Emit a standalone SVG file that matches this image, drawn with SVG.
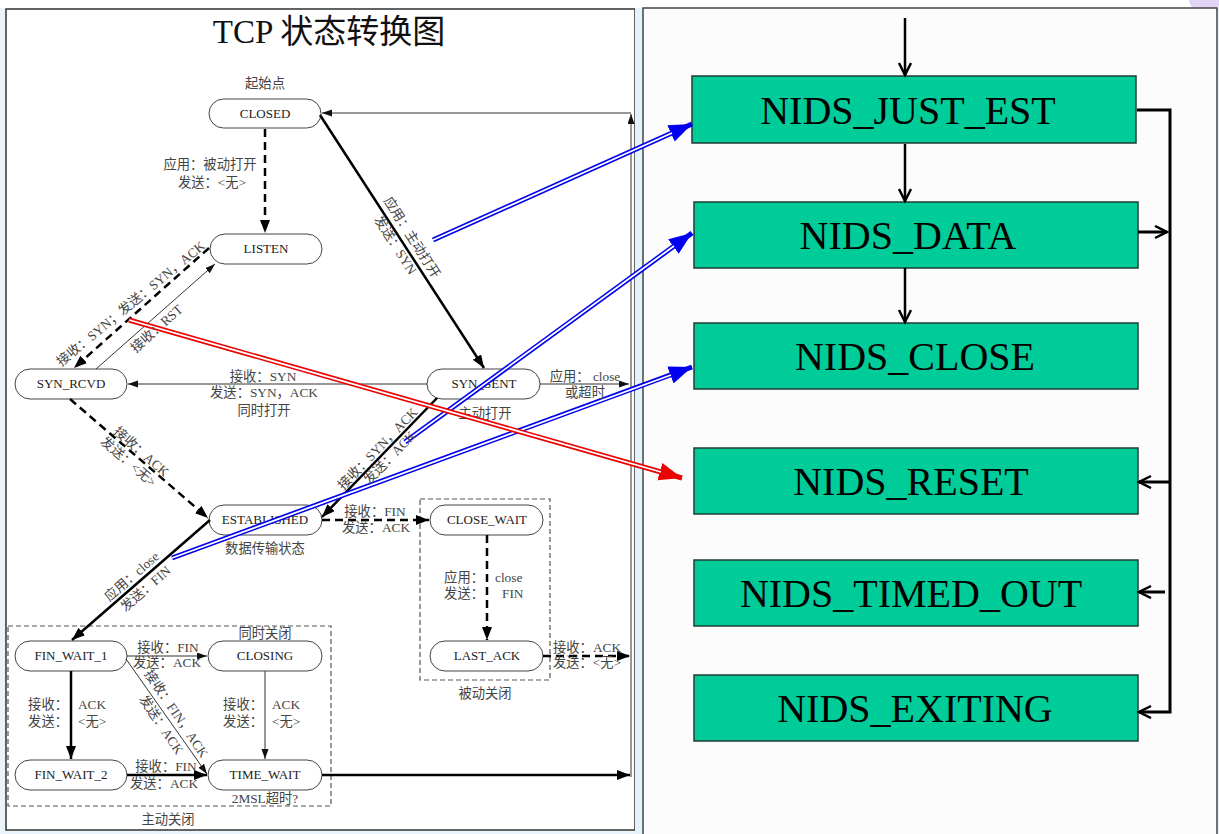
<svg xmlns="http://www.w3.org/2000/svg" width="1219" height="834" viewBox="0 0 1219 834">
<style>
.node rect.st{fill:#fff;stroke:#444;stroke-width:1}
.nt{font-family:"Liberation Serif","Noto Sans CJK SC",serif;font-size:13px;fill:#222;text-anchor:middle}
.lb{font-family:"Liberation Serif","Noto Sans CJK SC",serif;font-size:13.3px;fill:#444}
.mid{text-anchor:middle}
.end{text-anchor:end}
.thick{stroke:#000;stroke-width:2.5;fill:none}
.dash{stroke-dasharray:8 5}
.thin{stroke:#333;stroke-width:1;fill:none}
.grp{fill:none;stroke:#555;stroke-width:1.2;stroke-dasharray:5 3}
.gbox{fill:#00cc99;stroke:#1f3d35;stroke-width:1.5}
.gt{font-family:"Liberation Serif",serif;font-size:40px;fill:#000;text-anchor:middle}
.rc{stroke:#000;stroke-width:3;fill:none}
.dbB{stroke:#0000ee;stroke-width:5;fill:none}
.dbR{stroke:#ee0000;stroke-width:5;fill:none}
.inner{stroke:#fff;stroke-width:1.8;fill:none}
</style>
<defs>
<marker id="ahK" markerUnits="userSpaceOnUse" markerWidth="14" markerHeight="11" refX="13" refY="5" orient="auto"><path d="M0,0 L13,5 L0,10 z" fill="#000"/></marker>
<marker id="ahT" markerUnits="userSpaceOnUse" markerWidth="11" markerHeight="8" refX="10" refY="3.5" orient="auto"><path d="M0,0 L10,3.5 L0,7 z" fill="#111"/></marker>
<marker id="ahB" markerUnits="userSpaceOnUse" markerWidth="25" markerHeight="20" refX="23" refY="9" orient="auto"><path d="M0,0 L23,9 L0,18 z" fill="#0000ee"/></marker>
<marker id="ahR" markerUnits="userSpaceOnUse" markerWidth="25" markerHeight="20" refX="23" refY="9" orient="auto"><path d="M0,0 L23,9 L0,18 z" fill="#ee0000"/></marker>
<marker id="ahV" markerUnits="userSpaceOnUse" markerWidth="16" markerHeight="16" refX="13" refY="7" orient="auto"><path d="M1,1 L13,7 L1,13" fill="none" stroke="#000" stroke-width="2.5"/></marker>
</defs>

<!-- background -->
<rect x="0" y="0" width="1219" height="834" fill="#eaf4fb"/>
<rect x="0" y="0" width="1219" height="8" fill="#fff"/>
<circle cx="1205" cy="-2" r="16" fill="#e2d4f7"/>

<!-- left panel -->
<rect x="6" y="9" width="629" height="821" fill="#fff" stroke="#333" stroke-width="1.5"/>
<rect x="635" y="8" width="8" height="826" fill="#e4f2fb"/>
<!-- right panel -->
<rect x="643" y="8" width="574" height="830" fill="#fcfcfc" stroke="#444" stroke-width="1.5"/>

<text x="329" y="43" font-family="Liberation Serif,Noto Sans CJK SC,serif" font-size="33" fill="#111" text-anchor="middle">TCP 状态转换图</text>
<text x="265" y="88" class="lb mid">起始点</text>

<!-- group boxes -->
<rect x="8" y="626" width="323" height="180" class="grp"/>
<rect x="420" y="499" width="130" height="181" class="grp"/>
<text x="265" y="638" class="lb mid">同时关闭</text>
<text x="265" y="803" class="lb mid">2MSL超时?</text>
<text x="168" y="824" class="lb mid">主动关闭</text>
<text x="485" y="698" class="lb mid">被动关闭</text>
<text x="485" y="418" class="lb mid">主动打开</text>
<text x="265" y="553" class="lb mid">数据传输状态</text>

<!-- TCP state nodes -->
<g id="n-closed" class="node"><rect class="st" x="209" y="99" width="112" height="29" rx="14.5"/><text x="265" y="118" class="nt">CLOSED</text></g>
<g id="n-listen" class="node"><rect class="st" x="210" y="234" width="112" height="30" rx="15"/><text x="266" y="253" class="nt">LISTEN</text></g>
<g id="n-synrcvd" class="node"><rect class="st" x="15" y="369" width="112" height="30" rx="15"/><text x="71" y="388" class="nt">SYN_RCVD</text></g>
<g id="n-synsent" class="node"><rect class="st" x="427" y="369" width="113" height="30" rx="15"/><text x="484" y="388" class="nt">SYN_SENT</text></g>
<g id="n-established" class="node"><rect class="st" x="209" y="505" width="113" height="30" rx="15"/><text x="265" y="524" class="nt">ESTABLISHED</text></g>
<g id="n-closewait" class="node"><rect class="st" x="430" y="505" width="113" height="30" rx="15"/><text x="487" y="524" class="nt">CLOSE_WAIT</text></g>
<g id="n-finwait1" class="node"><rect class="st" x="15" y="641" width="112" height="30" rx="15"/><text x="71" y="660" class="nt">FIN_WAIT_1</text></g>
<g id="n-closing" class="node"><rect class="st" x="208" y="641" width="114" height="30" rx="15"/><text x="265" y="660" class="nt">CLOSING</text></g>
<g id="n-lastack" class="node"><rect class="st" x="430" y="641" width="113" height="30" rx="15"/><text x="487" y="660" class="nt">LAST_ACK</text></g>
<g id="n-finwait2" class="node"><rect class="st" x="15" y="760" width="112" height="30" rx="15"/><text x="71" y="779" class="nt">FIN_WAIT_2</text></g>
<g id="n-timewait" class="node"><rect class="st" x="208" y="760" width="114" height="30" rx="15"/><text x="265" y="779" class="nt">TIME_WAIT</text></g>

<!-- NIDS nodes -->
<g id="n-just-est"><rect class="gbox" x="692" y="76" width="444" height="67"/><text x="908" y="124" class="gt">NIDS_JUST_EST</text></g>
<g id="n-data"><rect class="gbox" x="694" y="202" width="444" height="66"/><text x="908" y="249" class="gt">NIDS_DATA</text></g>
<g id="n-close"><rect class="gbox" x="694" y="323" width="444" height="66"/><text x="915" y="370" class="gt">NIDS_CLOSE</text></g>
<g id="n-reset"><rect class="gbox" x="694" y="448" width="444" height="66"/><text x="911" y="495" class="gt">NIDS_RESET</text></g>
<g id="n-timed-out"><rect class="gbox" x="694" y="560" width="444" height="66"/><text x="911" y="607" class="gt">NIDS_TIMED_OUT</text></g>
<g id="n-exiting"><rect class="gbox" x="694" y="675" width="444" height="66"/><text x="915" y="722" class="gt">NIDS_EXITING</text></g>

<!-- connectors -->
<g id="connectors">
<path class="thick dash" d="M265,129 V233" marker-end="url(#ahK)"/>
<path class="thick" d="M320,115 L484,368" marker-end="url(#ahK)"/>
<path class="thick dash" d="M209,248 L74,368" marker-end="url(#ahK)"/>
<path class="thin" d="M96,369 L215,264" marker-end="url(#ahT)"/>
<path class="thin" d="M427,384 H128" marker-end="url(#ahT)"/>
<path class="thin" d="M540,384 H629" marker-end="url(#ahT)"/>
<path class="thick" d="M437,398 L322,517" marker-end="url(#ahK)"/>
<path class="thick dash" d="M70,399 L208,518" marker-end="url(#ahK)"/>
<path class="thick dash" d="M322,520 H429" marker-end="url(#ahK)"/>
<path class="thick" d="M210,520 L72,640" marker-end="url(#ahK)"/>
<path class="thick dash" d="M487,535 V640" marker-end="url(#ahK)"/>
<path class="thick dash" d="M543,656 H630" marker-end="url(#ahK)"/>
<path class="thin" d="M127,656 H207" marker-end="url(#ahT)"/>
<path class="thin" d="M126,659 L207,774" marker-end="url(#ahT)"/>
<path class="thick" d="M71,671 V759" marker-end="url(#ahK)"/>
<path class="thin" d="M265,671 V759" marker-end="url(#ahT)"/>
<path class="thick" d="M127,775 H207" marker-end="url(#ahK)"/>
<path class="thick" d="M322,775 H630" marker-end="url(#ahK)"/>
<path class="thin" d="M631,777 V114" marker-end="url(#ahT)"/>
<path class="thin" d="M631,113 H322" marker-end="url(#ahT)"/>

<!-- right-side NIDS connectors -->
<path class="rc" style="stroke-width:2.5" d="M905,18 V75" marker-end="url(#ahV)"/>
<path class="rc" style="stroke-width:2.5" d="M905,144 V201" marker-end="url(#ahV)"/>
<path class="rc" style="stroke-width:2.5" d="M905,268 V322" marker-end="url(#ahV)"/>
<path class="rc" d="M1137,110 H1170 V712 H1139" marker-end="url(#ahV)"/>
<path class="rc" d="M1138,232 H1167" marker-end="url(#ahV)"/>
<path class="rc" d="M1170,482 H1139" marker-end="url(#ahV)"/>
<path class="rc" d="M1165,592 H1139" marker-end="url(#ahV)"/>

<!-- mapping arrows (double lines) -->
<path class="dbB" d="M433,240 L692,124" marker-end="url(#ahB)"/>
<path class="inner" d="M433,240 L672,133"/>
<path class="dbB" d="M405,442 L692,233" marker-end="url(#ahB)"/>
<path class="inner" d="M405,442 L674,246"/>
<path class="dbB" d="M172,558 L692,367" marker-end="url(#ahB)"/>
<path class="inner" d="M172,558 L671,375"/>
<path class="dbR" d="M129,320 L682,478" marker-end="url(#ahR)"/>
<path class="inner" d="M129,320 L661,472"/>
</g>

<!-- connector labels -->
<g id="labels">
<text x="210" y="169" class="lb mid">应用：被动打开</text>
<text x="212" y="187" class="lb mid">发送：&lt;无&gt;</text>
<g transform="translate(411.5,237.5) rotate(57.5)"><text class="lb mid" dy="4">应用：主动打开</text></g>
<g transform="translate(395,245.5) rotate(57.5)"><text class="lb mid" dy="4">发送：SYN</text></g>
<g transform="translate(131,304) rotate(-39.5)"><text class="lb mid" dy="4">接收：SYN；发送：SYN，ACK</text></g>
<g transform="translate(157,329) rotate(-41.7)"><text class="lb mid" dy="4">接收：RST</text></g>
<text x="263" y="381" class="lb mid">接收：SYN</text>
<text x="264" y="397" class="lb mid">发送：SYN，ACK</text>
<text x="264" y="415" class="lb mid">同时打开</text>
<text x="585" y="381" class="lb mid">应用： close</text>
<text x="585" y="397" class="lb mid">或超时</text>
<g transform="translate(378,449) rotate(-46)"><text class="lb mid" dy="4">接收：SYN，ACK</text></g>
<g transform="translate(390,458) rotate(-46)"><text class="lb mid" dy="4">发送：ACK</text></g>
<g transform="translate(141,452) rotate(40.8)"><text class="lb mid" dy="4">接收：ACK</text></g>
<g transform="translate(128,462) rotate(40.8)"><text class="lb mid" dy="4">发送：&lt;无&gt;</text></g>
<text x="375" y="516" class="lb mid">接收：FIN</text>
<text x="376" y="532" class="lb mid">发送：ACK</text>
<g transform="translate(132,577) rotate(-41)"><text class="lb mid" dy="4">应用：close</text></g>
<g transform="translate(146,589) rotate(-41)"><text class="lb mid" dy="4">发送：FIN</text></g>
<text x="484" y="582" class="lb end">应用：</text>
<text x="495" y="582" class="lb">close</text>
<text x="484" y="598" class="lb end">发送：</text>
<text x="502" y="598" class="lb">FIN</text>
<text x="587" y="652" class="lb mid">接收：ACK</text>
<text x="587" y="667" class="lb mid">发送：&lt;无&gt;</text>
<text x="168" y="652" class="lb mid">接收：FIN</text>
<text x="167" y="667" class="lb mid">发送：ACK</text>
<g transform="translate(176,714) rotate(56)"><text class="lb mid" dy="4">接收：FIN，ACK</text></g>
<g transform="translate(161,725) rotate(56)"><text class="lb mid" dy="4">发送：ACK</text></g>
<text x="68" y="709" class="lb end">接收：</text>
<text x="78" y="709" class="lb">ACK</text>
<text x="68" y="726" class="lb end">发送：</text>
<text x="78" y="726" class="lb">&lt;无&gt;</text>
<text x="263" y="709" class="lb end">接收：</text>
<text x="272" y="709" class="lb">ACK</text>
<text x="263" y="726" class="lb end">发送：</text>
<text x="272" y="726" class="lb">&lt;无&gt;</text>
<text x="166" y="771" class="lb mid">接收：FIN</text>
<text x="164" y="788" class="lb mid">发送：ACK</text>
</g>
</svg>
